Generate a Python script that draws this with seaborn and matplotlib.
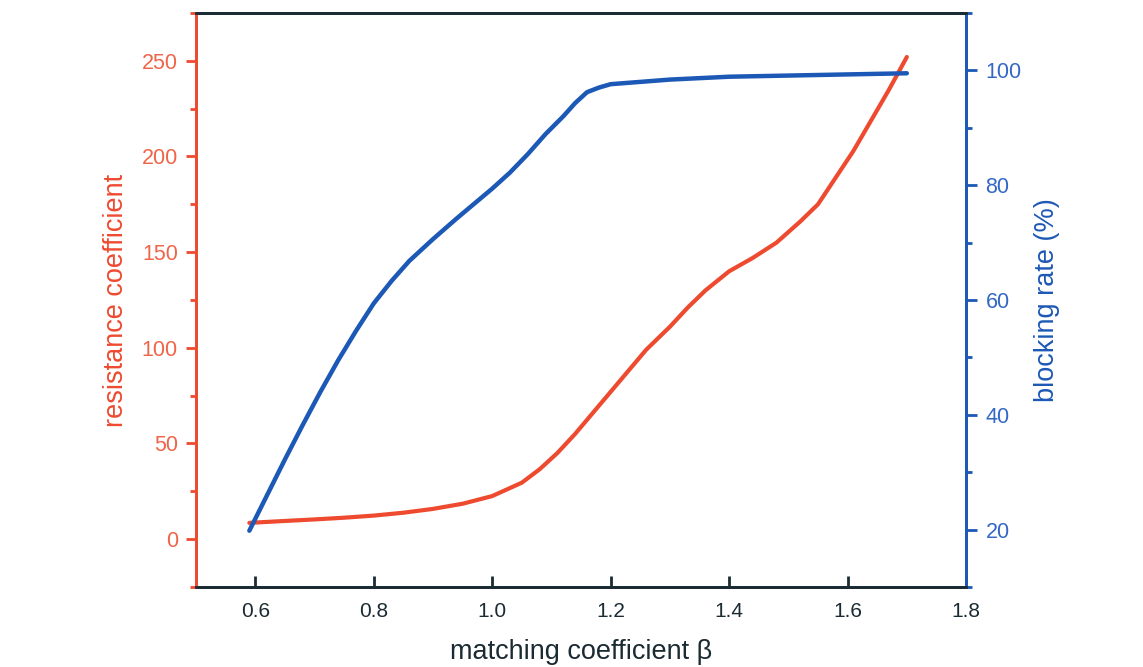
import matplotlib
matplotlib.use("Agg")
import matplotlib.pyplot as plt
import seaborn as sns
import pandas as pd
from matplotlib.ticker import MultipleLocator

# ---- data ----
beta_res = [0.59, 0.65, 0.70, 0.75, 0.80, 0.85, 0.90, 0.95, 1.00, 1.05, 1.08, 1.11, 1.14,
            1.17, 1.20, 1.23, 1.26, 1.30, 1.33, 1.36, 1.40, 1.44, 1.48, 1.52, 1.55,
            1.58, 1.61, 1.64, 1.67, 1.70]
resistance = [8.5, 9.5, 10.3, 11.2, 12.3, 13.8, 15.8, 18.5, 22.5, 29.5, 36.5, 45, 55,
              66, 77, 88, 99, 111, 121, 130, 140, 147, 155, 166, 175,
              189, 203, 219, 235, 252]

beta_blk = [0.59, 0.62, 0.65, 0.68, 0.71, 0.74, 0.77, 0.80, 0.83, 0.86, 0.90, 0.94, 0.97,
            1.00, 1.03, 1.06, 1.09, 1.12, 1.14, 1.16, 1.18, 1.20, 1.25, 1.30, 1.40,
            1.50, 1.60, 1.70]
blocking = [19.8, 26.0, 32.2, 38.2, 44.0, 49.5, 54.6, 59.4, 63.3, 66.8, 70.6, 74.2, 76.8,
            79.4, 82.2, 85.4, 88.9, 92.0, 94.3, 96.2, 97.0, 97.6, 98.0, 98.4, 98.9,
            99.1, 99.3, 99.5]

xticks = [0.6, 0.8, 1.0, 1.2, 1.4, 1.6, 1.8]
left_ticks = [0, 50, 100, 150, 200, 250]
right_ticks = [20, 40, 60, 80, 100]

RED = "#ee4a30"
RED_TXT = "#f0654a"
BLUE = "#1c58b5"
BLUE_TXT = "#3468c6"
DARK = "#1b2b33"

sns.set_style("ticks")
plt.rcParams["font.family"] = ["Liberation Sans", "DejaVu Sans"]

fig = plt.figure(figsize=(11.43, 6.67), dpi=100)
ax = fig.add_axes([0.1715, 0.12, 0.6737, 0.8605])
ax2 = ax.twinx()

df_r = pd.DataFrame({"beta": beta_res, "res": resistance})
df_b = pd.DataFrame({"beta": beta_blk, "blk": blocking})
sns.lineplot(data=df_r, x="beta", y="res", ax=ax, color=RED, linewidth=3, legend=False)
sns.lineplot(data=df_b, x="beta", y="blk", ax=ax2, color=BLUE, linewidth=3.2, legend=False)

ax.set_xlim(0.5, 1.8)
ax.set_ylim(-25, 275)
ax2.set_ylim(10, 110)

ax.set_xticks(xticks)
ax.set_xticklabels([f"{v:.1f}" for v in xticks])
ax.set_yticks(left_ticks)
ax.set_yticklabels([str(v) for v in left_ticks])
ax.yaxis.set_minor_locator(MultipleLocator(25))
ax2.set_yticks(right_ticks)
ax2.set_yticklabels([str(v) for v in right_ticks])
ax2.yaxis.set_minor_locator(MultipleLocator(10))

lw = 2.0
for a in (ax, ax2):
    for s in a.spines.values():
        s.set_linewidth(lw)
        s.set_visible(True)
    a.spines["top"].set_color(DARK)
    a.spines["bottom"].set_color(DARK)
    a.spines["left"].set_color(RED)
    a.spines["right"].set_color(BLUE)

ax.tick_params(axis="x", direction="in", length=8, width=2, colors=DARK,
               labelsize=15, pad=11, top=False)
ax.tick_params(axis="y", which="major", direction="out", length=7, width=2,
               colors=RED, labelcolor=RED_TXT, labelsize=15.5, pad=6)
ax.tick_params(axis="y", which="minor", direction="out", length=4, width=2, colors=RED)
ax2.tick_params(axis="y", which="major", direction="out", length=8, width=2,
                colors=BLUE, labelcolor=BLUE_TXT, labelsize=15.5, pad=6)
ax2.tick_params(axis="y", which="minor", direction="out", length=4, width=2, colors=BLUE)

ax.set_xlabel("matching coefficient β", fontsize=19.5, color=DARK, labelpad=13)
ax.set_ylabel("resistance coefficient", fontsize=19.5, color=RED, labelpad=9)
ax2.set_ylabel("blocking rate (%)", fontsize=19.5, color=BLUE, labelpad=9)

fig.savefig("out.png", dpi=100)
